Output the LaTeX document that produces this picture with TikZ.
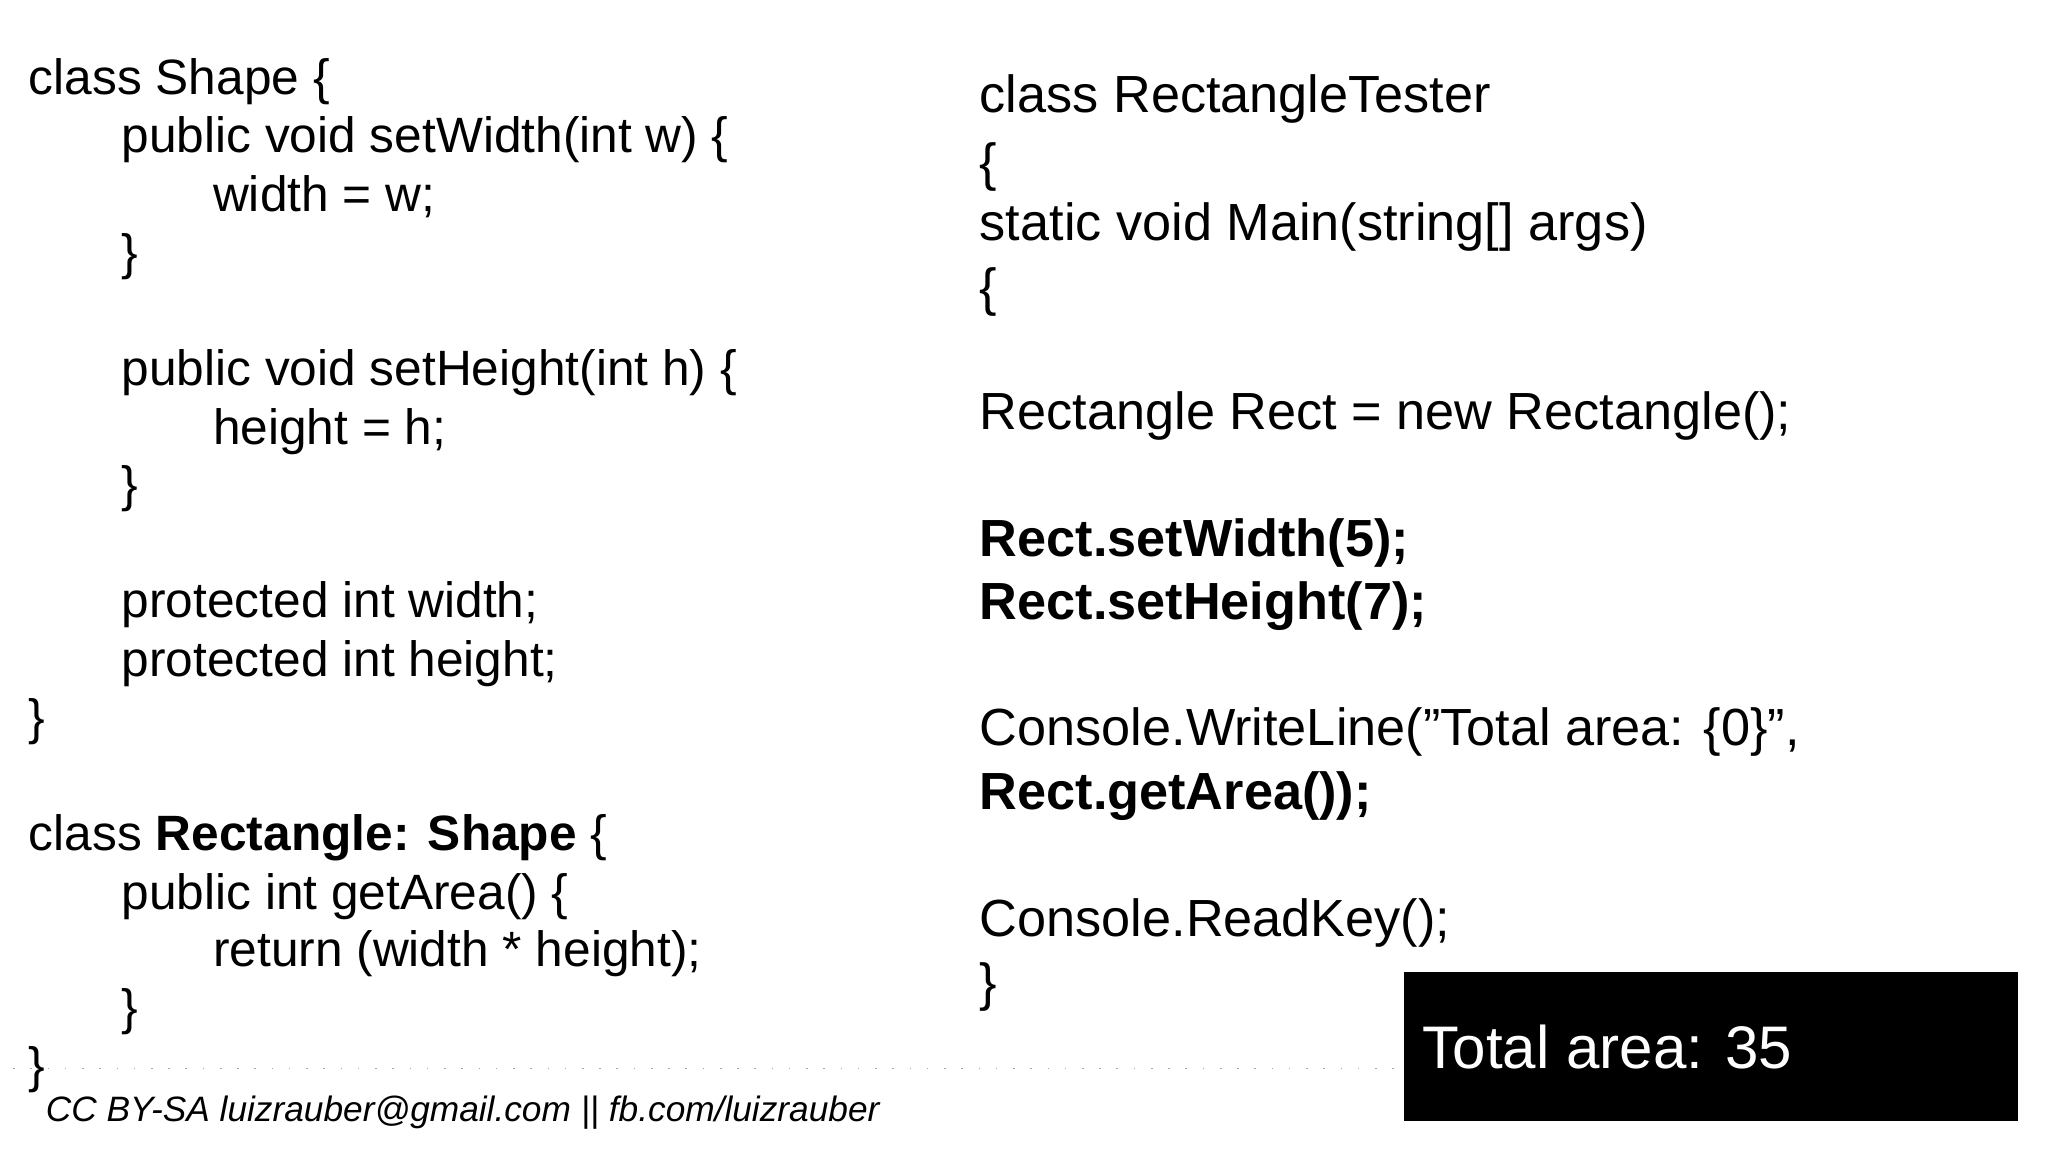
\documentclass[tikz,border=0pt]{standalone}
\usepackage{fontspec}
\setmainfont{Liberation Sans}
\begin{document}
\begin{tikzpicture}[x=1pt,y=-1pt,
  L/.style={anchor=base west,inner sep=0pt,font=\fontsize{38}{44}\selectfont},
  R/.style={anchor=base west,inner sep=0pt,font=\fontsize{40}{46}\selectfont}]
\useasboundingbox (0,0) rectangle (1568,880);
\fill[white] (0,0) rectangle (1568,880);
\foreach \t/\x/\y [count=\i] in {
 {class Shape \{}/22/72, {public void setWidth(int w) \{}/93/117, {width = w;}/163/162, {\}}/93/206,
 {public void setHeight(int h) \{}/93/295, {height = h;}/163/340, {\}}/93/384,
 {protected int width;}/93/473, {protected int height;}/93/518, {\}}/22/562,
 {class \textbf{Rectangle: Shape} \{}/22/651, {public int getArea() \{}/93/696,
 {return (width * height);}/163/740, {\}}/93/784, {\}}/22/829}
 \node[L] (l\i) at (\x,\y) {\t};
\foreach \t/\y [count=\i] in {
 {class RectangleTester}/86, {\{}/138, {static void Main(string[] args)}/184, {\{}/234,
 {Rectangle Rect = new Rectangle();}/329, {\textbf{Rect.setWidth(5);}}/426,
 {\textbf{Rect.setHeight(7);}}/474, {Console.WriteLine("Total area: \{0\}",}/571,
 {\textbf{Rect.getArea());}}/620, {Console.ReadKey();}/717, {\}}/766}
 \node[R] (r\i) at (750,\y) {\t};
\draw[gray!70,line width=1.2pt,dash pattern=on 1.2pt off 12pt] (10,818) -- (1075,818);
\fill (1075,744) rectangle (1545,858);
\node[anchor=base west,inner sep=0pt,text=white,font=\fontsize{46}{50}\selectfont] (out) at (1089,818) {Total area: 35};
\node[anchor=base west,inner sep=0pt,font=\itshape\fontsize{27}{30}\selectfont] (foot) at (35,859) {CC BY-SA luizrauber@gmail.com || fb.com/luizrauber};
\end{tikzpicture}
\end{document}
